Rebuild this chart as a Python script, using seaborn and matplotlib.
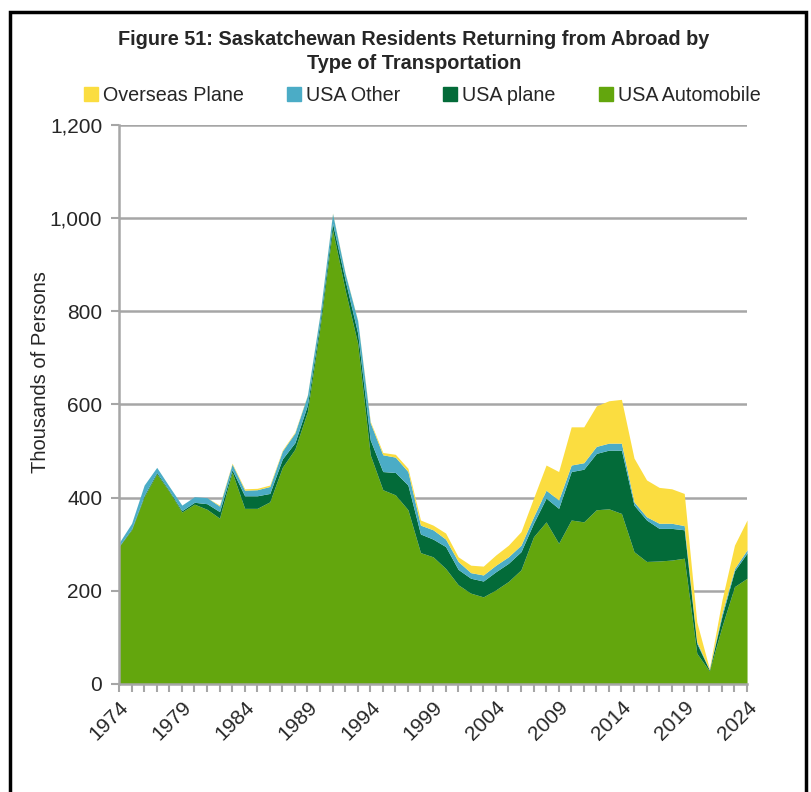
import numpy as np
import pandas as pd
import matplotlib
matplotlib.use("Agg")
import matplotlib.pyplot as plt
import matplotlib.patches as mpatches
from matplotlib.ticker import FuncFormatter, MultipleLocator
import seaborn as sns

# Data (thousands of persons)
years = list(range(1974, 2025))
usa_auto = [295, 331, 402, 451, 413, 369, 386, 375, 356, 455,
            377, 377, 391, 465, 504, 585, 765, 975, 846, 731,
            492, 417, 406, 374, 282, 273, 248, 213, 195, 187,
            202, 220, 245, 316, 348, 302, 352, 348, 374, 376,
            366, 284, 263, 264, 266, 270, 66, 28, 123, 209, 227]
usa_plane = [1, 2, 3, 3, 2, 3, 4, 12, 14, 5,
             27, 27, 18, 18, 14, 14, 12, 14, 21, 22,
             32, 39, 48, 53, 40, 38, 47, 33, 32, 34,
             39, 39, 39, 29, 51, 75, 104, 113, 121, 126,
             136, 100, 89, 70, 68, 61, 21, 2, 22, 34, 54]
usa_other = [7, 12, 22, 11, 9, 12, 12, 13, 12, 12,
             12, 13, 15, 17, 21, 21, 17, 21, 15, 27,
             37, 36, 33, 29, 19, 20, 16, 17, 12, 13,
             14, 14, 14, 14, 17, 18, 14, 14, 15, 15,
             15, 7, 7, 11, 11, 9, 4, 1, 7, 5, 7]
overseas_plane = [0, 0, 0, 0, 0, 0, 0, 0, 2, 2,
                  3, 3, 3, 2, 2, 1, 1, 1, 1, 1,
                  3, 5, 6, 7, 11, 10, 13, 10, 16, 19,
                  22, 25, 29, 40, 54, 61, 82, 77, 87, 91,
                  94, 94, 79, 77, 74, 69, 42, 2, 28, 50, 64]

df = pd.DataFrame({
    "Year": years,
    "USA Automobile": usa_auto,
    "USA plane": usa_plane,
    "USA Other": usa_other,
    "Overseas Plane": overseas_plane,
})

series = ["USA Automobile", "USA plane", "USA Other", "Overseas Plane"]
colors = {"USA Automobile": "#63A60D", "USA plane": "#036B39",
          "USA Other": "#4BACC6", "Overseas Plane": "#FBDD40"}

sns.set_style("white")
plt.rcParams["font.family"] = ["Liberation Sans", "DejaVu Sans"]

fig = plt.figure(figsize=(8.12, 7.92), dpi=100)
ax = fig.add_axes([0.1466, 0.1364, 0.7734, 0.7058])

# stacked areas, automobile at the bottom
ax.stackplot(df["Year"], [df[s] for s in series],
             colors=[colors[s] for s in series], linewidth=0, zorder=3)

ax.set_xlim(1974, 2024)
ax.set_ylim(0, 1200)
ax.yaxis.set_major_locator(MultipleLocator(200))
ax.yaxis.set_major_formatter(FuncFormatter(lambda v, p: f"{int(v):,}"))
ax.grid(axis="y", color="#A6A6A6", linewidth=1.8, zorder=0)
ax.grid(axis="x", visible=False)

ax.set_xticks(years[::5])
ax.set_xticks(years, minor=True)
ax.set_xticklabels([str(y) for y in years[::5]], rotation=45, ha="right",
                   rotation_mode="anchor", fontsize=15)
ax.tick_params(axis="x", which="both", direction="out", length=6,
               width=1.5, color="#A6A6A6", bottom=True, pad=4)
ax.tick_params(axis="y", direction="out", length=6, width=1.5,
               color="#A6A6A6", left=True, labelsize=15, pad=6)

for side in ["top", "right"]:
    ax.spines[side].set_visible(False)
for side in ["left", "bottom"]:
    ax.spines[side].set_color("#A6A6A6")
    ax.spines[side].set_linewidth(1.8)
    ax.spines[side].set_zorder(5)

ax.set_ylabel("Thousands of Persons", fontsize=14.5)
ax.yaxis.set_label_coords(-0.11, 0.558)
ax.set_xlabel("")

fig.text(0.51, 0.935, "Figure 51: Saskatchewan Residents Returning from Abroad by\nType of Transportation",
         ha="center", va="center", fontsize=14.3, fontweight="bold",
         family=["Liberation Sans Narrow", "Liberation Sans"], linespacing=1.3)

handles = [mpatches.Patch(color=colors[s], label=s) for s in series[::-1]]
fig.legend(handles=handles, loc="center", bbox_to_anchor=(0.52, 0.88), ncol=4,
           frameon=False, handlelength=0.7, handleheight=0.7,
           handletextpad=0.25, columnspacing=2.2,
           prop={"family": ["Liberation Sans Narrow", "Liberation Sans"], "size": 14.2})

# outer frame around the figure
fig.patches.append(mpatches.Rectangle((0.012, -0.05), 0.98, 1.035, transform=fig.transFigure,
                                      fill=False, edgecolor="black", linewidth=2.5))

fig.savefig("out.png", dpi=100)
